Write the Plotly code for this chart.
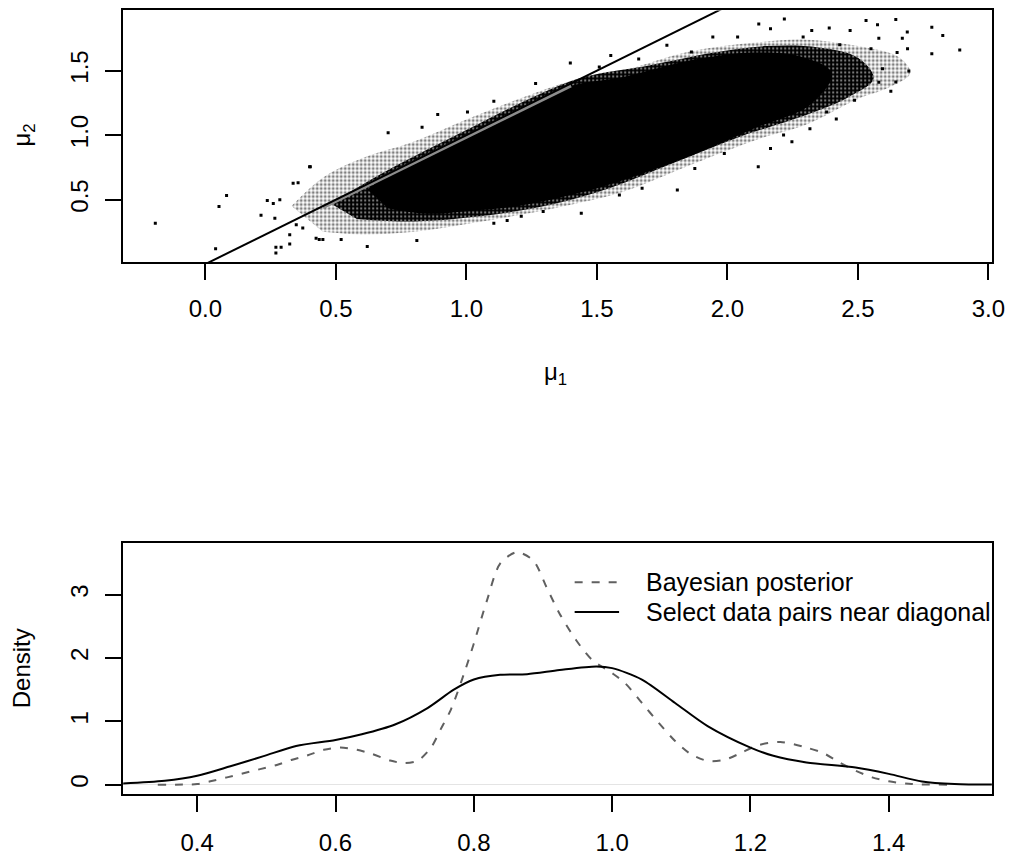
import plotly.graph_objects as go

# ---- top panel: posterior draws of (mu1, mu2) ----
# solid black core of the cloud
core_mu1 = [0.62, 0.70, 0.85, 1.00, 1.20, 1.40, 1.60, 1.86, 2.10, 2.28, 2.40, 2.32, 2.10, 1.86, 1.60, 1.45, 1.20, 1.00, 0.85, 0.70]
core_mu2 = [0.58, 0.69, 0.84, 0.99, 1.19, 1.38, 1.45, 1.58, 1.64, 1.61, 1.48, 1.24, 1.05, 0.84, 0.65, 0.56, 0.45, 0.41, 0.39, 0.43]

# dense speckle around the core
mid_mu1 = [0.48, 0.70, 1.00, 1.25, 1.45, 1.70, 1.95, 2.15, 2.35, 2.50, 2.56, 2.46, 2.25, 2.05, 1.80, 1.55, 1.30, 1.05, 0.80, 0.58]
mid_mu2 = [0.47, 0.73, 1.04, 1.29, 1.45, 1.54, 1.64, 1.69, 1.68, 1.60, 1.44, 1.29, 1.12, 0.99, 0.79, 0.59, 0.45, 0.37, 0.33, 0.35]

# sparse outer fringe
halo_mu1 = [0.33, 0.45, 0.60, 0.80, 1.00, 1.20, 1.40, 1.60, 1.86, 2.12, 2.30, 2.50, 2.66, 2.70, 2.62, 2.50, 2.30, 2.12, 1.86, 1.60, 1.40, 1.20, 1.00, 0.80, 0.60, 0.45]
halo_mu2 = [0.45, 0.67, 0.82, 0.95, 1.12, 1.28, 1.42, 1.50, 1.65, 1.72, 1.74, 1.69, 1.60, 1.48, 1.37, 1.28, 1.08, 0.97, 0.77, 0.56, 0.46, 0.38, 0.31, 0.25, 0.23, 0.25]

# isolated draws outside the cloud
out_mu1 = [-0.192, 0.052, 0.081, 0.039, 0.270, 0.270, 0.290, 0.323, 0.213, 0.237, 0.285, 0.260,
           0.399, 0.336, 0.355, 0.266, 0.323, 0.348, 0.373, 0.424, 0.450, 0.402, 0.700, 0.890,
           0.830, 0.436, 0.620, 0.810, 0.520, 1.105, 1.004,
           2.218, 2.120, 2.531, 2.645, 2.783, 2.825, 2.890, 2.783, 2.690, 2.695, 2.645, 2.626,
           2.417, 2.247, 2.165, 2.118, 1.808, 1.440, 1.156, 1.398, 1.553, 1.265, 1.768, 1.944,
           2.039, 2.323, 2.390, 2.575, 2.470, 2.689, 2.670, 2.650, 2.580, 2.550, 2.594, 2.580,
           2.487, 2.380, 2.316, 2.215, 1.988, 1.875, 1.673, 1.586, 1.294, 1.210, 1.105, 1.509,
           1.660, 1.862, 2.165, 2.290, 2.430]
out_mu2 = [0.317, 0.446, 0.531, 0.119, 0.085, 0.131, 0.131, 0.155, 0.379, 0.492, 0.498, 0.470,
           0.755, 0.626, 0.630, 0.356, 0.227, 0.305, 0.280, 0.200, 0.190, 0.755, 1.018, 1.160,
           1.060, 0.190, 0.137, 0.183, 0.190, 1.263, 1.180,
           1.900, 1.862, 1.889, 1.896, 1.837, 1.773, 1.660, 1.630, 1.670, 1.497, 1.412, 1.340,
           1.124, 0.948, 0.896, 0.755, 0.575, 0.394, 0.338, 1.559, 1.618, 1.400, 1.696, 1.760,
           1.760, 1.811, 1.830, 1.855, 1.810, 1.800, 1.750, 1.640, 1.750, 1.670, 1.515, 1.410,
           1.270, 1.180, 1.050, 1.000, 0.858, 0.742, 0.587, 0.535, 0.407, 0.370, 0.317, 1.528,
           1.590, 1.644, 1.824, 1.760, 1.700]

# pairs selected near the diagonal (grey stripe) and the diagonal itself
band_mu1 = [0.45, 1.40]
band_mu2 = [0.44, 1.385]
diag = [-1.0, 4.0]

# ---- bottom panel: density curves ----
post_x = [0.343, 0.40, 0.419, 0.443, 0.467, 0.491, 0.515, 0.536, 0.560, 0.583, 0.607, 0.631,
          0.653, 0.679, 0.700, 0.719, 0.738, 0.752, 0.767, 0.786, 0.800, 0.819, 0.838, 0.862,
          0.886, 0.905, 0.924, 0.948, 0.971, 1.000, 1.019, 1.043, 1.067, 1.091, 1.114, 1.138,
          1.162, 1.186, 1.210, 1.243, 1.281, 1.305, 1.329, 1.352, 1.376, 1.400, 1.433, 1.486]
post_y = [0.0, 0.01, 0.053, 0.115, 0.18, 0.245, 0.31, 0.39, 0.465, 0.55, 0.585, 0.55,
          0.485, 0.38, 0.34, 0.38, 0.585, 0.873, 1.19, 1.76, 2.23, 2.91, 3.49, 3.67,
          3.54, 3.12, 2.70, 2.28, 1.97, 1.76, 1.60, 1.29, 0.98, 0.69, 0.48, 0.375,
          0.39, 0.50, 0.62, 0.675, 0.585, 0.50, 0.35, 0.22, 0.115, 0.053, 0.01, 0.0]

near_x = [0.28, 0.353, 0.40, 0.448, 0.496, 0.543, 0.600, 0.638, 0.686, 0.733, 0.771, 0.800,
          0.838, 0.877, 0.924, 0.977, 1.000, 1.043, 1.091, 1.138, 1.200, 1.233, 1.281, 1.352,
          1.400, 1.448, 1.495, 1.56]
near_y = [0.01, 0.06, 0.14, 0.29, 0.45, 0.61, 0.705, 0.795, 0.95, 1.21, 1.50, 1.66,
          1.735, 1.745, 1.81, 1.865, 1.84, 1.66, 1.29, 0.925, 0.585, 0.455, 0.35, 0.27,
          0.17, 0.05, 0.01, 0.0]

legend_labels = ["Bayesian posterior", "Select data pairs near diagonal"]

FONT = "Liberation Sans, Arial, sans-serif"
# the page body adds an 8px margin, so the figure is 8px smaller each way
W, H = 1016, 851
POST_LINE = dict(color="#606060", width=2, dash="8px,9px")
NEAR_LINE = dict(color="black", width=2)

fig = go.Figure()

fig.add_trace(go.Scatter(x=halo_mu1, y=halo_mu2, fill="toself", mode="lines",
                         line=dict(width=0, shape="spline"), fillcolor="white",
                         fillpattern=dict(shape=".", fgcolor="black", bgcolor="white",
                                          size=4, solidity=0.45),
                         showlegend=False, hoverinfo="skip", xaxis="x", yaxis="y"))
fig.add_trace(go.Scatter(x=mid_mu1, y=mid_mu2, fill="toself", mode="lines",
                         line=dict(width=0, shape="spline"), fillcolor="black",
                         fillpattern=dict(shape=".", fgcolor="white", bgcolor="black",
                                          size=4, solidity=0.25),
                         showlegend=False, hoverinfo="skip", xaxis="x", yaxis="y"))
fig.add_trace(go.Scatter(x=core_mu1, y=core_mu2, fill="toself", mode="lines",
                         line=dict(width=0, color="black", shape="spline"), fillcolor="black",
                         showlegend=False, hoverinfo="skip", xaxis="x", yaxis="y"))
fig.add_trace(go.Scatter(x=out_mu1, y=out_mu2, mode="markers",
                         marker=dict(symbol="square", size=3, color="black", line=dict(width=0)),
                         showlegend=False, hoverinfo="skip", xaxis="x", yaxis="y"))
fig.add_trace(go.Scatter(x=band_mu1, y=band_mu2, mode="lines",
                         line=dict(color="#8c8c8c", width=4),
                         showlegend=False, hoverinfo="skip", xaxis="x", yaxis="y"))
fig.add_trace(go.Scatter(x=diag, y=diag, mode="lines",
                         line=dict(color="black", width=2),
                         showlegend=False, hoverinfo="skip", xaxis="x", yaxis="y"))

fig.add_trace(go.Scatter(x=post_x, y=post_y, mode="lines", name=legend_labels[0],
                         line=dict(**POST_LINE, shape="spline", smoothing=0.8),
                         showlegend=False, xaxis="x2", yaxis="y2"))
fig.add_trace(go.Scatter(x=near_x, y=near_y, mode="lines", name=legend_labels[1],
                         line=dict(**NEAR_LINE, shape="spline", smoothing=0.8),
                         showlegend=False, xaxis="x2", yaxis="y2"))

x_dom = [116.7 / W, 996.6 / W]
axis_style = dict(showline=True, mirror=True, linecolor="black", linewidth=2,
                  ticks="outside", ticklen=16, tickwidth=2, tickcolor="black",
                  showgrid=False,
                  tickfont=dict(family=FONT, size=24, color="black"))

# R-style legend without a box: sample lines as shapes, labels as text
legend_rows = [573.5, 603.5]
shapes = []
annotations = []
for row, label, style in zip(legend_rows, legend_labels, [POST_LINE, NEAR_LINE]):
    shapes.append(dict(type="line", xref="paper", yref="paper",
                       x0=574 / W, x1=619 / W, y0=1 - row / H, y1=1 - row / H,
                       line=style))
    annotations.append(dict(text=label, x=644 / W, y=1 - row / H, xref="paper", yref="paper",
                            xanchor="left", yanchor="middle", showarrow=False,
                            font=dict(family=FONT, size=25, color="black")))

annotations += [
    dict(text="μ<sub>1</sub>", x=555 / W, y=1 - 364 / H, xref="paper", yref="paper",
         xanchor="center", yanchor="middle",
         showarrow=False, font=dict(family=FONT, size=24)),
    dict(text="μ<sub>2</sub>", x=16 / W, y=1 - 125 / H, xref="paper", yref="paper",
         xanchor="center", yanchor="middle",
         showarrow=False, textangle=-90, font=dict(family=FONT, size=24)),
    dict(text="Density", x=14 / W, y=1 - 660 / H, xref="paper", yref="paper",
         xanchor="center", yanchor="middle", borderpad=0,
         showarrow=False, textangle=-90, font=dict(family=FONT, size=24)),
]

fig.update_layout(
    width=W, height=H,
    margin=dict(l=0, r=0, t=0, b=0),
    paper_bgcolor="white", plot_bgcolor="white",
    font=dict(family=FONT, size=24, color="black"),
    showlegend=False,
    xaxis=dict(domain=x_dom, anchor="y", range=[-0.315, 3.013], zeroline=False,
               tickvals=[0, 0.5, 1, 1.5, 2, 2.5, 3], tickformat=".1f",
               ticklabelstandoff=8, **axis_style),
    yaxis=dict(domain=[1 - 253 / H, 1 - 0.5 / H], anchor="x", range=[0.013, 1.966],
               zeroline=False, tickvals=[0.5, 1, 1.5], tickformat=".1f", tickangle=-90,
               ticklabelstandoff=8, **axis_style),
    xaxis2=dict(domain=x_dom, anchor="y2", range=[0.293, 1.549], zeroline=False,
                tickvals=[0.4, 0.6, 0.8, 1.0, 1.2, 1.4], tickformat=".1f",
                ticklabelstandoff=10, **axis_style),
    yaxis2=dict(domain=[1 - 786 / H, 1 - 534 / H], anchor="x2", range=[-0.15, 3.82],
                tickvals=[0, 1, 2, 3], tickangle=-90,
                zeroline=True, zerolinecolor="#e4e4e4", zerolinewidth=1,
                ticklabelstandoff=8, **axis_style),
    shapes=shapes,
    annotations=annotations,
)

fig.write_html("out.html")
